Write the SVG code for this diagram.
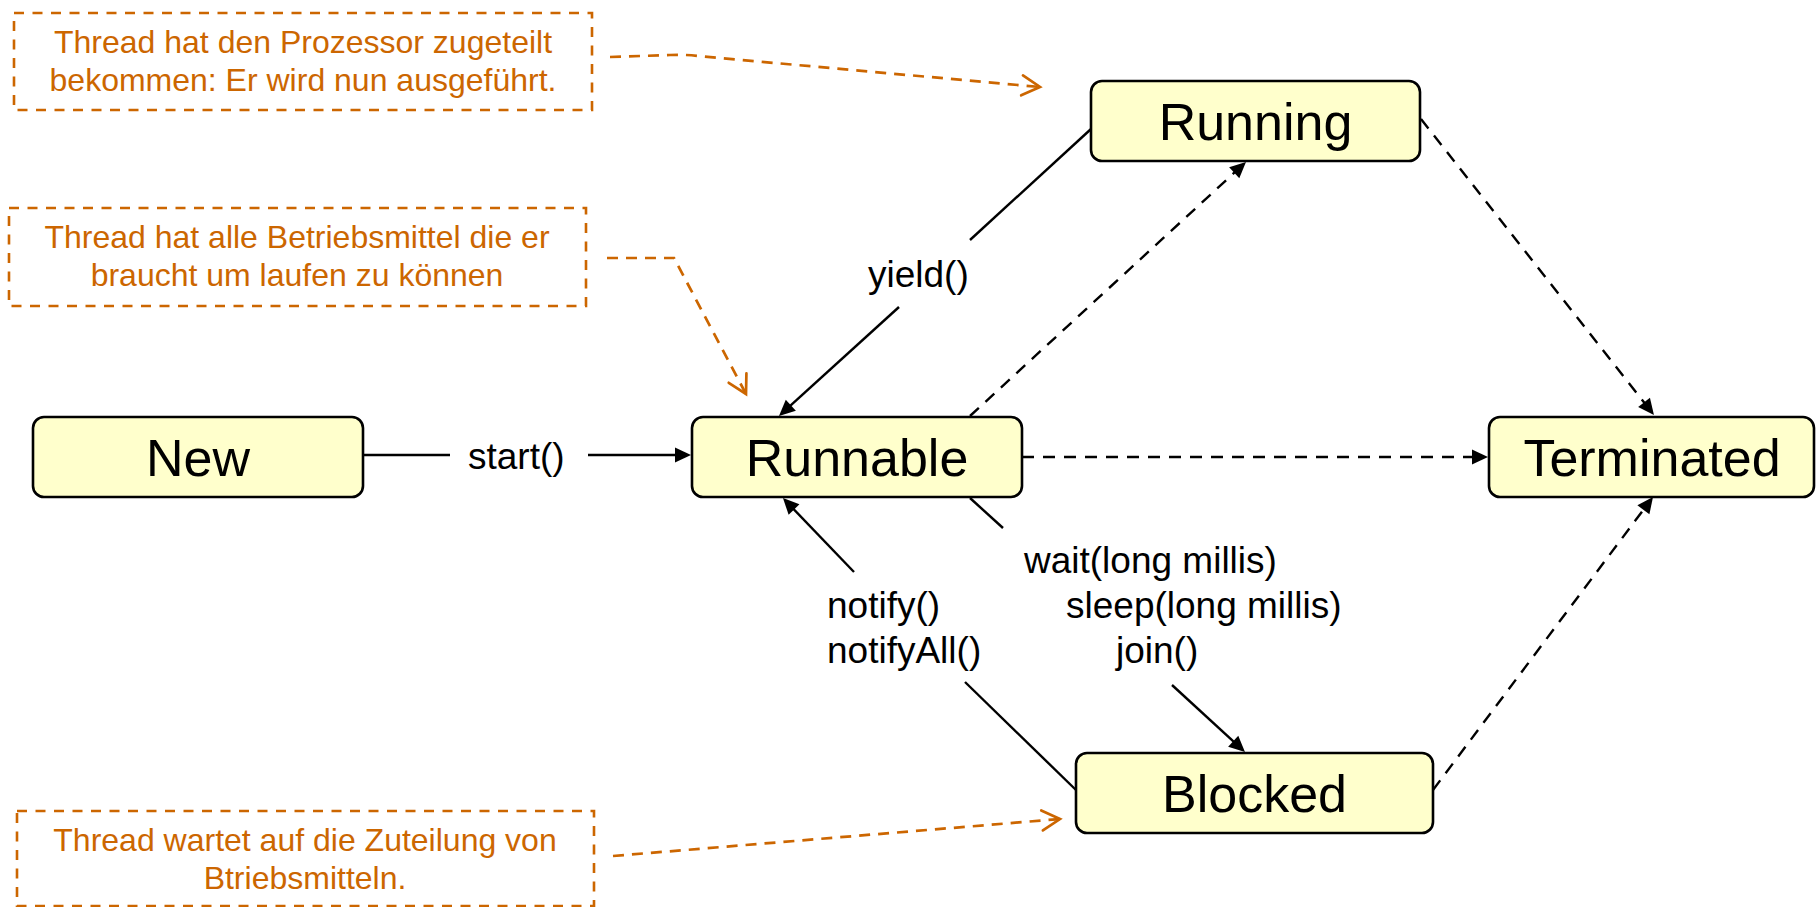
<svg xmlns="http://www.w3.org/2000/svg" width="1816" height="907" viewBox="0 0 1816 907">
  <style>
    .state rect { fill: #FFFFCC; stroke: #000; stroke-width: 2.6; }
    .state text { font-family: "Liberation Sans", Arial, sans-serif; font-size: 52px; fill: #000; text-anchor: middle; }
    .note rect { fill: none; stroke: #CC6600; stroke-width: 2.6; stroke-dasharray: 10 8.5; }
    .note text { font-family: "Liberation Sans", Arial, sans-serif; font-size: 32px; fill: #CC6600; text-anchor: middle; }
    .label { font-family: "Liberation Sans", Arial, sans-serif; font-size: 37px; fill: #000; }
    .solid { fill: none; stroke: #000; stroke-width: 2.4; }
    .dashed { fill: none; stroke: #000; stroke-width: 2.4; stroke-dasharray: 12 9; }
    .hint { fill: none; stroke: #CC6600; stroke-width: 2.7; stroke-dasharray: 11 8; }
  </style>
  <defs>
    <marker id="arrow" markerUnits="userSpaceOnUse" markerWidth="20" markerHeight="20" refX="0" refY="0" orient="auto" overflow="visible">
      <path d="M8,0 L-8,-7.5 L-8,7.5 z" fill="#000"/>
    </marker>
    <marker id="open" markerUnits="userSpaceOnUse" markerWidth="24" markerHeight="24" refX="0" refY="0" orient="auto" overflow="visible">
      <path d="M-18,-10 L0,0 L-18,10" fill="none" stroke="#CC6600" stroke-width="2.7" stroke-linecap="round" stroke-linejoin="miter"/>
    </marker>
  </defs>

  <rect width="1816" height="907" fill="#fff"/>

  <!-- annotation boxes -->
  <g id="note-running" class="note">
    <rect x="14" y="13" width="578" height="97"/>
    <text x="303" y="53">Thread hat den Prozessor zugeteilt</text>
    <text x="303" y="91">bekommen: Er wird nun ausgeführt.</text>
  </g>
  <g id="note-runnable" class="note">
    <rect x="9" y="208" width="577" height="98"/>
    <text x="297" y="248">Thread hat alle Betriebsmittel die er</text>
    <text x="297" y="286">braucht um laufen zu können</text>
  </g>
  <g id="note-blocked" class="note">
    <rect x="17" y="811" width="577" height="95"/>
    <text x="305" y="851">Thread wartet auf die Zuteilung von</text>
    <text x="305" y="889">Btriebsmitteln.</text>
  </g>

  <!-- connectors -->
  <g id="connectors">
    <!-- New -> Runnable : start() -->
    <line class="solid" x1="363" y1="455" x2="450" y2="455"/>
    <line class="solid" x1="588" y1="455" x2="683" y2="455" marker-end="url(#arrow)"/>
    <!-- Running -> Runnable : yield() -->
    <line class="solid" x1="1091" y1="129" x2="970" y2="240"/>
    <line class="solid" x1="899" y1="307" x2="784.9" y2="410.6" marker-end="url(#arrow)"/>
    <!-- Runnable -> Running -->
    <line class="dashed" x1="970" y1="416" x2="1240.1" y2="167.4" marker-end="url(#arrow)"/>
    <!-- Runnable -> Terminated -->
    <line class="dashed" x1="1022" y1="457" x2="1480" y2="457" marker-end="url(#arrow)"/>
    <!-- Running -> Terminated -->
    <line class="dashed" x1="1421" y1="119" x2="1649" y2="408.7" marker-end="url(#arrow)"/>
    <!-- Blocked -> Terminated -->
    <line class="dashed" x1="1433" y1="790" x2="1648.2" y2="503.4" marker-end="url(#arrow)"/>
    <!-- Blocked -> Runnable : notify() / notifyAll() -->
    <line class="solid" x1="1076" y1="790" x2="965" y2="682"/>
    <line class="solid" x1="854" y1="572" x2="788.5" y2="503.8" marker-end="url(#arrow)"/>
    <!-- Runnable -> Blocked : wait / sleep / join -->
    <line class="solid" x1="970" y1="498" x2="1003" y2="528"/>
    <line class="solid" x1="1172" y1="685" x2="1239.1" y2="746.6" marker-end="url(#arrow)"/>

    <!-- annotation pointers -->
    <path class="hint" d="M610,57 L670,55 Q686,54.3 702,56.4 L1040,87" marker-end="url(#open)"/>
    <path class="hint" d="M607,258 L674,258 L746,394" marker-end="url(#open)"/>
    <path class="hint" d="M613,856 L1060,819" marker-end="url(#open)"/>

    <!-- transition labels -->
    <text class="label" x="468" y="469">start()</text>
    <text class="label" x="868" y="287">yield()</text>
    <text class="label" x="827" y="618">notify()</text>
    <text class="label" x="827" y="663">notifyAll()</text>
    <text class="label" x="1024" y="573">wait(long millis)</text>
    <text class="label" x="1066" y="618">sleep(long millis)</text>
    <text class="label" x="1116" y="663">join()</text>
  </g>

  <!-- states -->
  <g id="state-new" class="state">
    <rect x="33" y="417" width="330" height="80" rx="11"/>
    <text x="198" y="476">New</text>
  </g>
  <g id="state-runnable" class="state">
    <rect x="692" y="417" width="330" height="80" rx="11"/>
    <text x="857" y="476">Runnable</text>
  </g>
  <g id="state-running" class="state">
    <rect x="1091" y="81" width="329" height="80" rx="11"/>
    <text x="1255.5" y="140">Running</text>
  </g>
  <g id="state-terminated" class="state">
    <rect x="1489" y="417" width="325" height="80" rx="11"/>
    <text x="1652" y="476">Terminated</text>
  </g>
  <g id="state-blocked" class="state">
    <rect x="1076" y="753" width="357" height="80" rx="11"/>
    <text x="1254.5" y="812">Blocked</text>
  </g>
</svg>
